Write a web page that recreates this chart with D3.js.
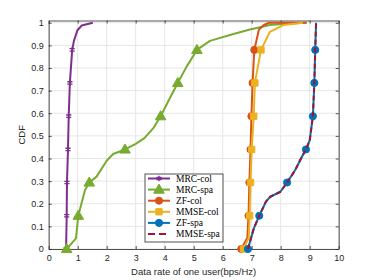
<!DOCTYPE html>
<html lang="en">
<head>
<meta charset="utf-8">
<title>CDF of data rate</title>
<script src="https://cdn.jsdelivr.net/npm/d3@7"></script>
<style>
	body { margin: 0; background: #fff; }
	svg { display: block; }
	.tick text { font-family: "Liberation Sans", Arial, sans-serif; font-size: 9px; fill: #262626; }
	.legend text { font-family: "Liberation Serif", "Times New Roman", serif; font-size: 9.5px; fill: #000; }
</style>
</head>
<body>
<svg id="chart" width="374" height="280"></svg>
<script>
// values
var markLevels = [0, 0.147, 0.294, 0.44, 0.587, 0.734, 0.88];

var mrcColX = [0.60, 0.62, 0.63, 0.665, 0.69, 0.73, 0.81, 0.87, 0.99, 1.14, 1.52];
var mrcColY = [0, 0.147, 0.294, 0.44, 0.587, 0.734, 0.88, 0.92, 0.967, 0.988, 1.0];

var mrcSpaX = [0.62, 0.94, 1.02, 1.25, 1.40, 1.65, 2.0, 2.22, 2.63, 3.0, 3.3, 3.6, 3.86, 4.15, 4.45, 4.75, 5.11, 5.56, 6.37, 6.94, 7.63, 8.3, 8.87];
var mrcSpaY = [0, 0.047, 0.147, 0.26, 0.294, 0.32, 0.39, 0.42, 0.44, 0.465, 0.49, 0.533, 0.587, 0.66, 0.734, 0.805, 0.88, 0.92, 0.95, 0.97, 0.99, 0.997, 1.0];

var zfColX = [6.64, 6.85, 6.89, 6.92, 6.96, 6.99, 7.03, 7.09, 7.25, 7.42, 7.6, 8.9];
var zfColY = [0, 0.05, 0.147, 0.294, 0.44, 0.587, 0.734, 0.88, 0.97, 0.99, 1.0, 1.0];

var mmseColX = [6.72, 6.9, 6.93, 6.96, 7.0, 7.07, 7.11, 7.32, 7.63, 8.09, 8.77];
var mmseColY = [0, 0.05, 0.147, 0.294, 0.44, 0.587, 0.734, 0.88, 0.96, 0.99, 1.0];

var zfSpaX = [6.87, 7.07, 7.26, 7.49, 7.64, 7.99, 8.22, 8.5, 8.7, 8.87, 9.0, 9.11, 9.16, 9.19, 9.22];
var zfSpaY = [0, 0.09, 0.147, 0.209, 0.231, 0.253, 0.294, 0.349, 0.4, 0.44, 0.48, 0.587, 0.734, 0.88, 1.0];

var mmseSpaX = [6.87, 7.07, 7.26, 7.49, 7.64, 7.99, 8.22, 8.5, 8.7, 8.87, 9.0, 9.11, 9.16, 9.19, 9.22];
var mmseSpaY = [0, 0.09, 0.147, 0.209, 0.231, 0.253, 0.294, 0.349, 0.4, 0.44, 0.48, 0.587, 0.734, 0.88, 1.0];

var xTicks = [0, 1, 2, 3, 4, 5, 6, 7, 8, 9, 10];
var yTicks = [0, 0.1, 0.2, 0.3, 0.4, 0.5, 0.6, 0.7, 0.8, 0.9, 1];

var series = [
	{name: 'MRC-col',  xs: mrcColX,  ys: mrcColY,  color: '#7E2F8E', marker: 'star'},
	{name: 'MRC-spa',  xs: mrcSpaX,  ys: mrcSpaY,  color: '#77AC30', marker: 'tri'},
	{name: 'ZF-col',   xs: zfColX,   ys: zfColY,   color: '#D95319', marker: 'circle'},
	{name: 'MMSE-col', xs: mmseColX, ys: mmseColY, color: '#EDB120', marker: 'square'},
	{name: 'ZF-spa',   xs: zfSpaX,   ys: zfSpaY,   color: '#0072BD', marker: 'circle'},
	{name: 'MMSE-spa', xs: mmseSpaX, ys: mmseSpaY, color: '#A2142F', marker: null, dash: '5,3'}
];

var svg = d3.select('#chart'),
	pLeft = 48.7, pRight = 338.7, pTop = 20.5, pBottom = 249;

var x = d3.scaleLinear().domain([0, 10]).range([pLeft, pRight]),
	y = d3.scaleLinear().domain([0, 1.01]).range([pBottom, pTop]);

// grid
var grid = svg.append('g');
grid.selectAll('.gx').data(xTicks).enter().append('line')
	.attr('x1', d => x(d)).attr('x2', d => x(d))
	.attr('y1', pTop).attr('y2', pBottom)
	.attr('stroke', '#e6e6e6').attr('stroke-width', 1);
grid.selectAll('.gy').data(yTicks).enter().append('line')
	.attr('x1', pLeft).attr('x2', pRight)
	.attr('y1', d => y(d)).attr('y2', d => y(d))
	.attr('stroke', '#e6e6e6').attr('stroke-width', 1);

// axes (ticks inside, box all round)
function styleAxis(g) {
	g.select('.domain').attr('stroke', '#262626').attr('stroke-width', 0.8);
	g.selectAll('.tick line').attr('stroke', '#262626').attr('stroke-width', 0.8);
}
svg.append('g').attr('transform', 'translate(0,' + pBottom + ')')
	.call(d3.axisBottom(x).tickValues(xTicks).tickSize(-3).tickSizeOuter(0).tickPadding(6).tickFormat(d3.format('d')))
	.call(styleAxis);
svg.append('g').attr('transform', 'translate(0,' + pTop + ')')
	.call(d3.axisTop(x).tickValues(xTicks).tickSize(-3).tickSizeOuter(0).tickFormat(''))
	.call(styleAxis);
svg.append('g').attr('transform', 'translate(' + pLeft + ',0)')
	.call(d3.axisLeft(y).tickValues(yTicks).tickSize(-3).tickSizeOuter(0).tickPadding(5).tickFormat(d => d === 0 || d === 1 ? d : d3.format('.1f')(d)))
	.call(styleAxis);
svg.append('g').attr('transform', 'translate(' + pRight + ',0)')
	.call(d3.axisRight(y).tickValues(yTicks).tickSize(-3).tickSizeOuter(0).tickFormat(''))
	.call(styleAxis);

svg.append('text')
	.attr('transform', 'translate(25,' + ((pTop + pBottom) / 2) + ') rotate(-90)')
	.attr('text-anchor', 'middle')
	.style('font-family', '"Liberation Sans", Arial, sans-serif').style('font-size', '9.5px').attr('fill', '#262626')
	.text('CDF');
svg.append('text')
	.attr('x', (pLeft + pRight) / 2).attr('y', 275)
	.attr('text-anchor', 'middle')
	.style('font-family', '"Liberation Sans", Arial, sans-serif').style('font-size', '9.5px').attr('fill', '#262626')
	.text('Data rate of one user(bps/Hz)');

function markerPath(type) {
	if (type === 'circle') return d3.symbol(d3.symbolCircle, 40)();
	if (type === 'square') return d3.symbol(d3.symbolSquare, 40)();
	if (type === 'tri') return 'M0,-5.5L5.3,3.6L-5.3,3.6Z';
	if (type === 'star') return 'M-2.6,-1.2L2.6,-1.2M-2.6,1.2L2.6,1.2M0,-2.8L0,2.8';
	return null;
}

function drawMarker(g, type, color, px, py) {
	var p = g.append('path').attr('d', markerPath(type))
		.attr('transform', 'translate(' + px + ',' + py + ')');
	if (type === 'star') p.attr('fill', 'none').attr('stroke', color).attr('stroke-width', 1.3);
	else p.attr('fill', color).attr('stroke', color).attr('stroke-width', 1);
}

var line = d3.line().x(d => x(d[0])).y(d => y(d[1]));

series.forEach(function(s) {
	var pts = s.xs.map((v, i) => [v, s.ys[i]]);
	var g = svg.append('g');
	g.append('path').datum(pts)
		.attr('d', line)
		.attr('fill', 'none')
		.attr('stroke', s.color)
		.attr('stroke-width', 2)
		.attr('stroke-linejoin', 'round')
		.attr('stroke-dasharray', s.dash || null);
	if (s.marker) {
		pts.filter(p => markLevels.indexOf(p[1]) >= 0).forEach(function(p) {
			drawMarker(g, s.marker, s.color, x(p[0]), y(p[1]));
		});
	}
});

// legend
var lg = svg.append('g').attr('class', 'legend');
lg.append('rect').attr('x', 145).attr('y', 174).attr('width', 78).attr('height', 68)
	.attr('fill', '#fff').attr('stroke', '#262626').attr('stroke-width', 0.8);
series.forEach(function(s, i) {
	var cy = 178.5 + i * 11.1;
	lg.append('line').attr('x1', 148).attr('x2', 170).attr('y1', cy).attr('y2', cy)
		.attr('stroke', s.color).attr('stroke-width', 2)
		.attr('stroke-dasharray', s.dash ? '7,4' : null);
	if (s.marker) drawMarker(lg, s.marker, s.color, 159, cy);
	lg.append('text').attr('x', 176).attr('y', cy + 3.3).text(s.name);
});
</script>
</body>
</html>
